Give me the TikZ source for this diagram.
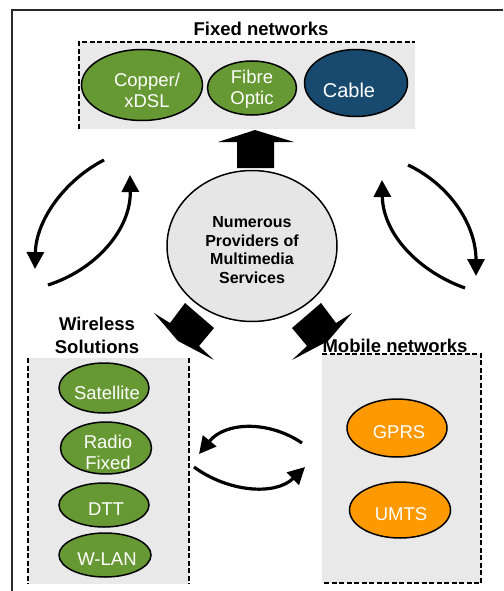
\documentclass[tikz,border=0pt]{standalone}
\usepackage{fontspec}
\setmainfont{Liberation Sans}
\usetikzlibrary{shapes.geometric,arrows.meta}
\definecolor{grn}{RGB}{102,153,51}
\definecolor{dblue}{RGB}{24,74,112}
\definecolor{orng}{RGB}{255,153,0}
\definecolor{boxgray}{RGB}{233,233,233}
\definecolor{circgray}{RGB}{230,230,230}
\definecolor{framegray}{RGB}{40,40,40}
\begin{document}
\begin{tikzpicture}[x=1pt,y=-1pt,
  ell/.style={ellipse, draw=black, line width=1.5pt, inner sep=0pt},
  lbl/.style={text=white, font=\fontsize{18.5}{21}\selectfont, align=center, inner sep=0pt},
  ttl/.style={font=\bfseries\fontsize{18.5}{23}\selectfont, align=center, inner sep=0pt},
  ctxt/.style={font=\bfseries\fontsize{16}{18.5}\selectfont, align=center, inner sep=0pt},
  dsh/.style={line width=2.4pt, dash pattern=on 5pt off 2.5pt},
  carrow/.style={line width=3.2pt, -{Triangle[length=17pt,width=17pt]}},
  blk/.style={fill=black}
]
\useasboundingbox (0,0) rectangle (503,591);

% outer frame
\draw[framegray, line width=1.5pt] (12,591) -- (12,10) -- (503,10);

% ---------- Fixed networks ----------
\node[ttl] (tfix) at (261,29) {Fixed networks};
\fill[boxgray] (79,42) rectangle (415,129);
\draw[dsh] (79,129) -- (79,42) -- (415,42);
\node[ell, fill=grn, minimum width=121pt, minimum height=71pt] (cop) at (142,85) {};
\node[lbl] at (147,90) {Copper/\\xDSL};
\node[ell, fill=grn, minimum width=89pt, minimum height=54pt] (fib) at (252,88) {};
\node[lbl] at (252,89) {Fibre\\Optic};
\node[ell, fill=dblue, minimum width=103pt, minimum height=67pt] (cab) at (356,83) {};
\node[lbl, font=\fontsize{20}{22}\selectfont] at (349,90) {Cable};

% ---------- centre ----------
\node[ellipse, draw=black, line width=1.5pt, fill=circgray, minimum width=170pt, minimum height=151pt, inner sep=0pt] (ctr) at (252,246) {};
\node[ctxt] at (252,250) {Numerous\\Providers of\\Multimedia\\Services};

% up block arrow
\fill[blk] (255,130) -- (294,142) -- (274,142) -- (274,168) -- (237,168) -- (237,142) -- (218,142) -- cycle;

% diagonal block arrows
\fill[blk] (154,313) -- (170,323) -- (185,303) -- (214,328) -- (199,346) -- (214,360) -- (178,341) -- cycle;
\fill[blk] (352,313) -- (336,323) -- (321,303) -- (292,328) -- (307,346) -- (292,360) -- (328,341) -- cycle;

% ---------- Wireless ----------
\node[ttl] (twl) at (97,335) {Wireless\\Solutions};
\fill[boxgray] (28,358) rectangle (189,584);
\draw[dsh] (28,358) -- (28,584);
\draw[dsh] (189,358) -- (189,584);
\node[ell, fill=grn, minimum width=90pt, minimum height=50pt] (sat) at (104,388) {};
\node[lbl] at (107,393) {Satellite};
\node[ell, fill=grn, minimum width=91pt, minimum height=52pt] (rad) at (106,448) {};
\node[lbl] at (108,452) {Radio\\Fixed};
\node[ell, fill=grn, minimum width=90pt, minimum height=44pt] (dtt) at (104,505) {};
\node[lbl] at (106,509) {DTT};
\node[ell, fill=grn, minimum width=92pt, minimum height=44pt] (wlan) at (105,555) {};
\node[lbl] at (107,559) {W-LAN};

% ---------- Mobile ----------
\node[ttl] (tmob) at (395,346) {Mobile networks};
\fill[boxgray] (322,354) rectangle (481,583);
\draw[dsh] (322,354) -- (481,354) -- (481,583) -- (322,583);
\node[ell, fill=orng, minimum width=100pt, minimum height=58pt] (gprs) at (397,428) {};
\node[lbl] at (399,432) {GPRS};
\node[ell, fill=orng, minimum width=101pt, minimum height=56pt] (umts) at (400,510) {};
\node[lbl] at (401,514) {UMTS};

% ---------- curved arrows ----------
\coordinate (l1s) at (104,160); \coordinate (l1e) at (35,269);
\coordinate (l2s) at (48,285);  \coordinate (l2e) at (130,175);
\draw[carrow] (l1s) .. controls (65,180) and (36,220) .. (l1e);
\draw[carrow] (l2s) .. controls (95,270) and (131,230) .. (l2e);

\coordinate (r1s) at (408,165); \coordinate (r1e) at (476,276);
\coordinate (r2s) at (465,288); \coordinate (r2e) at (382,180);
\draw[carrow] (r1s) .. controls (450,185) and (476,225) .. (r1e);
\draw[carrow] (r2s) .. controls (420,272) and (383,235) .. (r2e);

\coordinate (m1s) at (302,443); \coordinate (m1e) at (199,454);
\coordinate (m2s) at (194,467); \coordinate (m2e) at (305,467);
\draw[carrow] (m1s) .. controls (268,420) and (225,422) .. (m1e);
\draw[carrow] (m2s) .. controls (228,492) and (275,496) .. (m2e);
\end{tikzpicture}
\end{document}
